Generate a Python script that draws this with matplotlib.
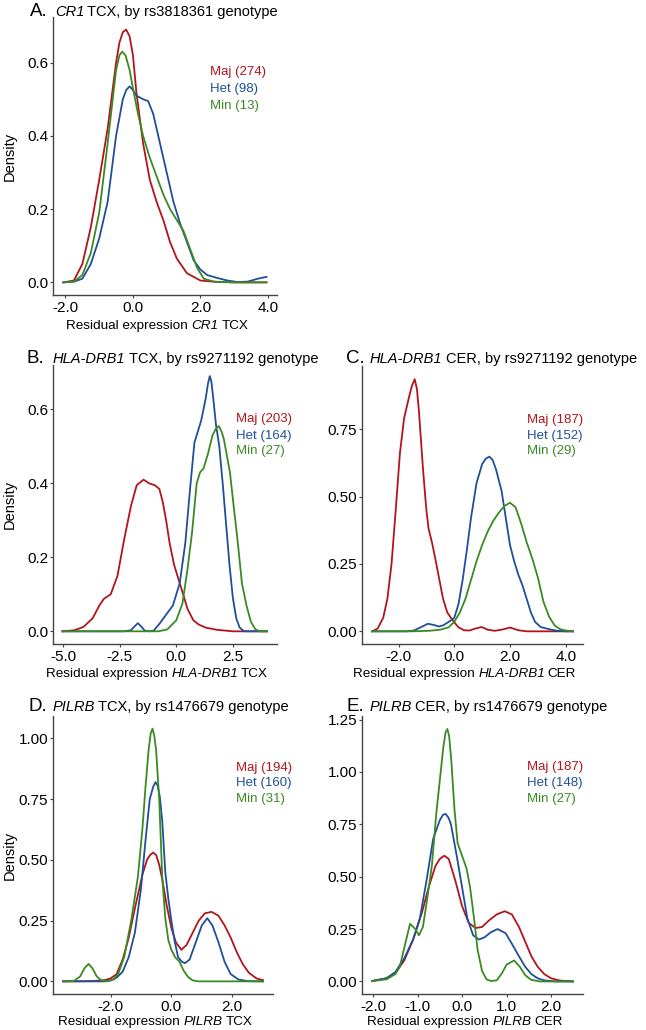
import matplotlib
matplotlib.use("Agg")
from matplotlib import pyplot as plt

plt.rcParams["font.family"] = ["Liberation Sans", "DejaVu Sans"]
plt.rcParams["axes.unicode_minus"] = False

W, H = 646, 1030
RED = "#b3141c"
BLUE = "#1f4f9a"
GREEN = "#3a8a22"

# ---- A. CR1 TCX ----
a_maj_x = [-2.06, -1.75, -1.5, -1.25, -1.0, -0.75, -0.5, -0.4, -0.3, -0.2, -0.1, 0.0, 0.1, 0.3, 0.5, 0.7, 0.9, 1.1, 1.3, 1.6, 2.0, 2.5, 3.0, 3.96]
a_maj_y = [0, 0.005, 0.05, 0.15, 0.28, 0.42, 0.6, 0.655, 0.683, 0.69, 0.672, 0.62, 0.52, 0.38, 0.28, 0.22, 0.17, 0.11, 0.065, 0.025, 0.005, 0.001, 0, 0]
a_het_x = [-2.06, -1.75, -1.5, -1.25, -1.0, -0.75, -0.5, -0.3, -0.2, -0.1, 0.0, 0.1, 0.3, 0.45, 0.6, 0.8, 1.0, 1.2, 1.4, 1.6, 1.8, 2.0, 2.2, 2.5, 2.8, 3.1, 3.4, 3.7, 3.96]
a_het_y = [0, 0.002, 0.01, 0.05, 0.12, 0.22, 0.4, 0.5, 0.525, 0.535, 0.525, 0.51, 0.5, 0.495, 0.46, 0.38, 0.3, 0.22, 0.16, 0.11, 0.06, 0.035, 0.02, 0.012, 0.005, 0.001, 0.002, 0.01, 0.015]
a_min_x = [-2.06, -1.75, -1.5, -1.25, -1.0, -0.75, -0.5, -0.4, -0.32, -0.22, -0.1, 0.0, 0.15, 0.3, 0.5, 0.7, 0.9, 1.1, 1.3, 1.5, 1.7, 1.9, 2.1, 2.4, 3.0, 3.96]
a_min_y = [0, 0.002, 0.02, 0.08, 0.19, 0.38, 0.58, 0.62, 0.63, 0.62, 0.58, 0.53, 0.46, 0.4, 0.34, 0.29, 0.24, 0.2, 0.17, 0.14, 0.09, 0.04, 0.01, 0.002, 0, 0]

# ---- B. HLA-DRB1 TCX ----
b_maj_x = [-5.03, -4.5, -4.1, -3.7, -3.4, -3.2, -2.9, -2.6, -2.3, -2.0, -1.75, -1.45, -1.2, -0.95, -0.75, -0.6, -0.45, -0.3, -0.1, 0.1, 0.3, 0.5, 0.75, 1.0, 1.3, 1.8, 2.5, 4.0]
b_maj_y = [0, 0.003, 0.012, 0.035, 0.07, 0.088, 0.1, 0.15, 0.25, 0.34, 0.395, 0.41, 0.4, 0.395, 0.385, 0.35, 0.3, 0.24, 0.18, 0.14, 0.1, 0.06, 0.03, 0.018, 0.01, 0.004, 0, 0]
b_het_x = [-5.03, -2.3, -2.0, -1.85, -1.7, -1.55, -1.4, -1.2, -1.0, -0.75, -0.45, -0.15, 0.15, 0.4, 0.6, 0.8, 0.95, 1.1, 1.3, 1.4, 1.48, 1.55, 1.65, 1.75, 1.9, 2.05, 2.2, 2.35, 2.5, 2.65, 2.8, 3.0, 4.0]
b_het_y = [0, 0, 0.003, 0.013, 0.022, 0.013, 0.002, 0, 0.002, 0.02, 0.045, 0.07, 0.13, 0.24, 0.38, 0.51, 0.54, 0.57, 0.63, 0.67, 0.69, 0.675, 0.62, 0.56, 0.5, 0.4, 0.29, 0.18, 0.09, 0.035, 0.01, 0, 0]
b_min_x = [-5.03, -0.8, -0.4, 0.0, 0.27, 0.5, 0.7, 0.9, 1.05, 1.2, 1.4, 1.6, 1.75, 1.88, 2.0, 2.1, 2.37, 2.55, 2.7, 2.9, 3.1, 3.3, 3.5, 3.7, 4.0]
b_min_y = [0, 0, 0.005, 0.03, 0.075, 0.17, 0.27, 0.4, 0.43, 0.44, 0.48, 0.53, 0.548, 0.555, 0.54, 0.52, 0.43, 0.33, 0.25, 0.13, 0.07, 0.025, 0.005, 0, 0]

# ---- C. HLA-DRB1 CER ----
c_maj_x = [-2.94, -2.75, -2.55, -2.4, -2.25, -2.1, -1.95, -1.8, -1.62, -1.52, -1.42, -1.34, -1.27, -1.12, -1.0, -0.92, -0.8, -0.7, -0.55, -0.4, -0.25, -0.05, 0.15, 0.35, 0.55, 0.75, 0.98, 1.2, 1.45, 1.7, 2.0, 2.3, 2.6, 4.26]
c_maj_y = [0, 0.01, 0.05, 0.12, 0.25, 0.45, 0.66, 0.79, 0.87, 0.91, 0.935, 0.9, 0.82, 0.6, 0.45, 0.38, 0.33, 0.28, 0.2, 0.12, 0.07, 0.04, 0.015, 0.004, 0.003, 0.01, 0.016, 0.006, 0.002, 0.006, 0.014, 0.004, 0, 0]
c_het_x = [-2.94, -1.7, -1.45, -1.2, -0.95, -0.75, -0.55, -0.4, -0.2, 0.0, 0.15, 0.3, 0.45, 0.6, 0.8, 1.0, 1.13, 1.26, 1.38, 1.5, 1.7, 1.85, 2.0, 2.15, 2.3, 2.45, 2.6, 2.75, 2.9, 3.1, 3.4, 3.7, 4.0, 4.26]
c_het_y = [0, 0, 0.003, 0.015, 0.028, 0.024, 0.018, 0.022, 0.035, 0.05, 0.1, 0.19, 0.3, 0.42, 0.55, 0.62, 0.64, 0.648, 0.635, 0.6, 0.52, 0.42, 0.32, 0.26, 0.21, 0.17, 0.12, 0.07, 0.035, 0.016, 0.008, 0.002, 0, 0]
c_min_x = [-2.94, -1.5, -0.9, -0.5, -0.2, 0.0, 0.2, 0.4, 0.6, 0.8, 1.0, 1.2, 1.4, 1.6, 1.8, 2.0, 2.2, 2.4, 2.6, 2.8, 3.0, 3.2, 3.4, 3.6, 3.8, 4.0, 4.26]
c_min_y = [0, 0, 0.002, 0.006, 0.015, 0.035, 0.07, 0.12, 0.19, 0.26, 0.32, 0.37, 0.41, 0.44, 0.465, 0.477, 0.46, 0.4, 0.33, 0.27, 0.2, 0.11, 0.055, 0.022, 0.008, 0.003, 0]

# ---- D. PILRB TCX ----
d_maj_x = [-3.56, -2.6, -2.2, -2.0, -1.8, -1.6, -1.4, -1.2, -0.95, -0.8, -0.7, -0.6, -0.5, -0.4, -0.3, -0.15, 0.0, 0.15, 0.33, 0.5, 0.7, 0.9, 1.1, 1.32, 1.55, 1.75, 1.95, 2.15, 2.35, 2.55, 2.8, 3.01]
d_maj_y = [0, 0.001, 0.005, 0.012, 0.03, 0.09, 0.18, 0.3, 0.44, 0.5, 0.52, 0.53, 0.52, 0.48, 0.42, 0.31, 0.22, 0.16, 0.13, 0.15, 0.2, 0.25, 0.28, 0.286, 0.27, 0.23, 0.18, 0.12, 0.07, 0.035, 0.012, 0.005]
d_het_x = [-3.56, -2.2, -2.0, -1.8, -1.6, -1.4, -1.2, -1.0, -0.85, -0.71, -0.6, -0.52, -0.45, -0.38, -0.3, -0.2, -0.1, 0.0, 0.1, 0.22, 0.35, 0.45, 0.6, 0.8, 1.0, 1.18, 1.35, 1.55, 1.75, 1.95, 2.2, 2.5, 3.01]
d_het_y = [0, 0, 0.003, 0.015, 0.04, 0.1, 0.2, 0.38, 0.58, 0.75, 0.8, 0.82, 0.805, 0.76, 0.66, 0.45, 0.34, 0.25, 0.17, 0.1, 0.08, 0.075, 0.09, 0.16, 0.23, 0.26, 0.23, 0.16, 0.08, 0.03, 0.008, 0.001, 0]
d_min_x = [-3.56, -3.2, -3.0, -2.85, -2.72, -2.6, -2.45, -2.3, -2.1, -1.9, -1.75, -1.55, -1.32, -1.1, -0.95, -0.85, -0.75, -0.68, -0.62, -0.56, -0.5, -0.4, -0.3, -0.2, -0.1, 0.0, 0.12, 0.27, 0.4, 0.55, 0.7, 0.9, 3.01]
d_min_y = [0, 0.002, 0.02, 0.055, 0.072, 0.055, 0.02, 0.004, 0.002, 0.008, 0.03, 0.1, 0.25, 0.43, 0.63, 0.8, 0.95, 1.02, 1.04, 1.01, 0.95, 0.75, 0.43, 0.26, 0.17, 0.13, 0.1, 0.08, 0.045, 0.018, 0.004, 0, 0]

# ---- E. PILRB CER ----
e_maj_x = [-2.02, -1.7, -1.5, -1.3, -1.1, -0.9, -0.75, -0.6, -0.5, -0.4, -0.3, -0.15, 0.0, 0.15, 0.3, 0.45, 0.6, 0.78, 0.96, 1.12, 1.28, 1.42, 1.56, 1.7, 1.85, 2.0, 2.2, 2.49]
e_maj_y = [0.002, 0.015, 0.04, 0.1, 0.2, 0.33, 0.45, 0.55, 0.585, 0.6, 0.585, 0.48, 0.36, 0.28, 0.255, 0.26, 0.29, 0.32, 0.335, 0.32, 0.26, 0.19, 0.12, 0.07, 0.035, 0.015, 0.004, 0]
e_het_x = [-2.02, -1.7, -1.5, -1.3, -1.1, -0.95, -0.8, -0.65, -0.5, -0.43, -0.37, -0.3, -0.25, -0.12, 0.0, 0.12, 0.25, 0.38, 0.5, 0.65, 0.8, 0.98, 1.12, 1.28, 1.42, 1.56, 1.7, 1.85, 2.1, 2.49]
e_het_y = [0.002, 0.015, 0.045, 0.11, 0.2, 0.3, 0.48, 0.68, 0.77, 0.795, 0.8, 0.78, 0.75, 0.6, 0.45, 0.3, 0.22, 0.2, 0.21, 0.235, 0.25, 0.23, 0.18, 0.12, 0.07, 0.035, 0.015, 0.005, 0, 0]
e_min_x = [-2.02, -1.7, -1.5, -1.4, -1.3, -1.17, -1.05, -0.97, -0.88, -0.78, -0.68, -0.58, -0.48, -0.42, -0.37, -0.33, -0.29, -0.24, -0.17, -0.1, 0.0, 0.1, 0.18, 0.27, 0.35, 0.45, 0.55, 0.65, 0.78, 0.9, 1.0, 1.17, 1.3, 1.42, 1.55, 1.75, 2.49]
e_min_y = [0.002, 0.01, 0.035, 0.07, 0.16, 0.275, 0.25, 0.22, 0.26, 0.4, 0.55, 0.8, 1.0, 1.12, 1.19, 1.205, 1.17, 1.05, 0.82, 0.66, 0.6, 0.54, 0.45, 0.3, 0.15, 0.05, 0.01, 0.002, 0.005, 0.04, 0.08, 0.1, 0.07, 0.03, 0.008, 0, 0]

genotypes = ["Maj", "Het", "Min"]
colors = [RED, BLUE, GREEN]

panels = [
    dict(letter="A.", gene="CR1", tissue="TCX", snp="rs3818361",
         box=(53, 17, 277, 295), xlim=(-2.37, 4.27), ylim=(-0.0345, 0.7245),
         xticks=[-2, 0, 2, 4], xfmt="{:.1f}", yticks=[0, 0.2, 0.4, 0.6], yfmt="{:.1f}",
         curves=[(a_maj_x, a_maj_y), (a_het_x, a_het_y), (a_min_x, a_min_y)],
         counts=[274, 98, 13], leg=(2.28, [0.573, 0.529, 0.482]),
         title_xy=(30, 55, 16), xlab_y=329, ylab=True),
    dict(letter="B.", gene="HLA-DRB1", tissue="TCX", snp="rs9271192",
         box=(53, 365, 277, 644), xlim=(-5.45, 4.45), ylim=(-0.0343, 0.72),
         xticks=[-5, -2.5, 0, 2.5], xfmt="{:.1f}", yticks=[0, 0.2, 0.4, 0.6], yfmt="{:.1f}",
         curves=[(b_maj_x, b_maj_y), (b_het_x, b_het_y), (b_min_x, b_min_y)],
         counts=[203, 164, 27], leg=(2.63, [0.575, 0.529, 0.488]),
         title_xy=(27, 53, 363), xlab_y=677, ylab=True),
    dict(letter="C.", gene="HLA-DRB1", tissue="CER", snp="rs9271192",
         box=(362, 366, 583, 644), xlim=(-3.31, 4.62), ylim=(-0.047, 0.984),
         xticks=[-2, 0, 2, 4], xfmt="{:.1f}", yticks=[0, 0.25, 0.5, 0.75], yfmt="{:.2f}",
         curves=[(c_maj_x, c_maj_y), (c_het_x, c_het_y), (c_min_x, c_min_y)],
         counts=[187, 152, 29], leg=(2.6, [0.785, 0.723, 0.667]),
         title_xy=(346, 370, 363), xlab_y=677, ylab=False),
    dict(letter="D.", gene="PILRB", tissue="TCX", snp="rs1476679",
         box=(53, 716, 273, 994), xlim=(-3.89, 3.34), ylim=(-0.052, 1.092),
         xticks=[-2, 0, 2], xfmt="{:.1f}", yticks=[0, 0.25, 0.5, 0.75, 1.0], yfmt="{:.2f}",
         curves=[(d_maj_x, d_maj_y), (d_het_x, d_het_y), (d_min_x, d_min_y)],
         counts=[194, 160, 31], leg=(2.12, [0.879, 0.815, 0.749]),
         title_xy=(29, 53, 711), xlab_y=1025, ylab=True),
    dict(letter="E.", gene="PILRB", tissue="CER", snp="rs1476679",
         box=(362, 716, 583, 994), xlim=(-2.25, 2.72), ylim=(-0.06, 1.267),
         xticks=[-2, -1, 0, 1, 2], xfmt="{:.1f}", yticks=[0, 0.25, 0.5, 0.75, 1.0, 1.25], yfmt="{:.2f}",
         curves=[(e_maj_x, e_maj_y), (e_het_x, e_het_y), (e_min_x, e_min_y)],
         counts=[187, 148, 27], leg=(1.45, [1.022, 0.947, 0.87]),
         title_xy=(346, 370, 711), xlab_y=1025, ylab=False),
]


def fx(px):
    return px / W


def fy(py):
    return 1 - py / H


def rich_text(ax, x_px, y_px, parts, size):
    """Chain text pieces left to right on a common baseline.
    parts: (text, style, gap in points before this piece)"""
    first = fig.text(fx(x_px), fy(y_px), parts[0][0], fontstyle=parts[0][1],
                     fontsize=size, ha="left", va="baseline")
    prev = first
    arts = [first]
    for s, st, gap in parts[1:]:
        prev = ax.annotate(s, xy=(1, 0), xycoords=prev, xytext=(gap, 0),
                           textcoords="offset points", fontstyle=st, fontsize=size,
                           ha="left", va="bottom", annotation_clip=False)
        arts.append(prev)
    return arts


fig = plt.figure(figsize=(W / 100, H / 100), dpi=100)
xlabels = []

for p in panels:
    x0, y0, x1, y1 = p["box"]
    ax = fig.add_axes([fx(x0), fy(y1), (x1 - x0) / W, (y1 - y0) / H])
    for (xs, ys), col in zip(p["curves"], colors):
        ax.plot(xs, ys, color=col, lw=1.3, solid_joinstyle="round")
    ax.set_xlim(*p["xlim"])
    ax.set_ylim(*p["ylim"])
    ax.set_xticks(p["xticks"])
    ax.set_xticklabels([p["xfmt"].format(v) for v in p["xticks"]])
    ax.set_yticks(p["yticks"])
    ax.set_yticklabels([p["yfmt"].format(v) for v in p["yticks"]])
    for s in ["top", "right"]:
        ax.spines[s].set_visible(False)
    for s in ["left", "bottom"]:
        ax.spines[s].set_color("#444444")
        ax.spines[s].set_linewidth(1.0)
    ax.tick_params(axis="both", length=2.5, width=0.8, color="#444444",
                   labelsize=11, labelcolor="black")
    ax.tick_params(axis="x", pad=1.5)
    ax.tick_params(axis="y", pad=1.0)

    # inline legend
    lx, lys = p["leg"]
    for g, n, col, ly in zip(genotypes, p["counts"], colors, lys):
        ax.text(lx, ly, f"{g} ({n})", color=col, fontsize=9.5, ha="left", va="center")

    # titles
    tx_letter, tx_text, tbase = p["title_xy"]
    fig.text(fx(tx_letter), fy(tbase), p["letter"], fontsize=13.5, ha="left", va="baseline")
    parts = [(p["gene"], "italic", 0), (f"{p['tissue']}, by {p['snp']} genotype", "normal", 2.2)]
    rich_text(ax, tx_text, tbase, parts, 10.5)

    # x label, centred a bit left of the panel like the original
    parts = [("Residual expression ", "normal", 0), (p["gene"], "italic", 0),
             (p["tissue"], "normal", 2.0)]
    arts = rich_text(ax, 0, p["xlab_y"], parts, 9.7)
    xlabels.append(((x0 + x1) / 2 - 8, arts))

    if p["ylab"]:
        fig.text(fx(10), fy((y0 + y1) / 2), "Density", fontsize=10.5,
                 rotation=90, ha="center", va="center")

# centre the chained x labels now that their widths are known
fig.canvas.draw()
r = fig.canvas.get_renderer()
for cx, arts in xlabels:
    left = arts[0].get_window_extent(r).x0
    right = arts[-1].get_window_extent(r).x1
    width_px = right - left
    x_, y_ = arts[0].get_position()
    arts[0].set_position((fx(cx - width_px / 2), y_))

fig.savefig("out.png", dpi=100)
